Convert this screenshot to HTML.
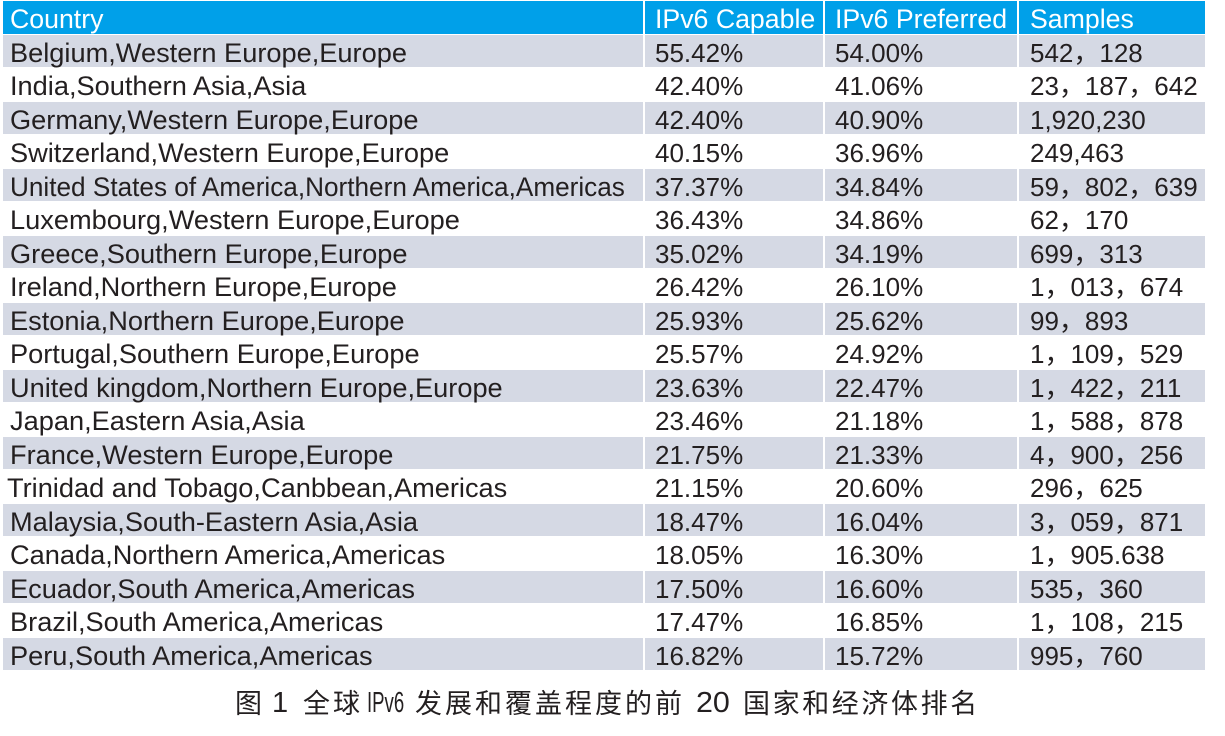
<!DOCTYPE html>
<html><head><meta charset="utf-8"><style>
html,body{margin:0;padding:0;background:#fff;}
body{width:1225px;height:736px;position:relative;overflow:hidden;font-family:"Liberation Sans","Noto Sans CJK SC",sans-serif;color:#231f20;}
.r{position:absolute;left:0;width:1225px;height:32.5px;}
.c{position:absolute;top:0;height:32.5px;box-sizing:border-box;padding-top:2px;line-height:32.5px;font-size:26px;white-space:pre;overflow:visible;}
.c1{left:3px;width:640px;padding-left:7px;font-size:27.2px;}
.c2{left:645px;width:178px;padding-left:10px;}
.c3{left:825px;width:192px;padding-left:10px;}
.c4{left:1019px;width:186px;padding-left:11px;}
.h .c{background:#00a0e9;color:#fff;font-size:26.7px;}
.g .c{background:#d5d9e4;}
.sq{display:inline-block;transform:scaleX(0.962);transform-origin:0 50%;}
.cap{position:absolute;top:691px;font-size:27px;line-height:27px;letter-spacing:3px;white-space:pre;color:#231f20;font-family:"Liberation Sans","Noto Sans CJK SC",sans-serif;}
.lat{letter-spacing:0;transform-origin:0 50%;font-size:29px;top:690px;}
</style></head><body>
<div class="r h" style="top:1px"><div class="c c1">Country</div><div class="c c2">IPv6 Capable</div><div class="c c3">IPv6 Preferred</div><div class="c c4">Samples</div></div>
<div class="r g" style="top:34.5px"><div class="c c1">Belgium,Western Europe,Europe</div><div class="c c2">55.42%</div><div class="c c3">54.00%</div><div class="c c4">542，128</div></div>
<div class="r" style="top:68px"><div class="c c1">India,Southern Asia,Asia</div><div class="c c2">42.40%</div><div class="c c3">41.06%</div><div class="c c4">23，187，642</div></div>
<div class="r g" style="top:101.5px"><div class="c c1">Germany,Western Europe,Europe</div><div class="c c2">42.40%</div><div class="c c3">40.90%</div><div class="c c4">1,920,230</div></div>
<div class="r" style="top:135px"><div class="c c1">Switzerland,Western Europe,Europe</div><div class="c c2">40.15%</div><div class="c c3">36.96%</div><div class="c c4">249,463</div></div>
<div class="r g" style="top:168.5px"><div class="c c1"><span class="sq">United States of America,Northern America,Americas</span></div><div class="c c2">37.37%</div><div class="c c3">34.84%</div><div class="c c4">59，802，639</div></div>
<div class="r" style="top:202px"><div class="c c1">Luxembourg,Western Europe,Europe</div><div class="c c2">36.43%</div><div class="c c3">34.86%</div><div class="c c4">62，170</div></div>
<div class="r g" style="top:235.5px"><div class="c c1">Greece,Southern Europe,Europe</div><div class="c c2">35.02%</div><div class="c c3">34.19%</div><div class="c c4">699，313</div></div>
<div class="r" style="top:269px"><div class="c c1">Ireland,Northern Europe,Europe</div><div class="c c2">26.42%</div><div class="c c3">26.10%</div><div class="c c4">1，013，674</div></div>
<div class="r g" style="top:302.5px"><div class="c c1">Estonia,Northern Europe,Europe</div><div class="c c2">25.93%</div><div class="c c3">25.62%</div><div class="c c4">99，893</div></div>
<div class="r" style="top:336px"><div class="c c1">Portugal,Southern Europe,Europe</div><div class="c c2">25.57%</div><div class="c c3">24.92%</div><div class="c c4">1，109，529</div></div>
<div class="r g" style="top:369.5px"><div class="c c1">United kingdom,Northern Europe,Europe</div><div class="c c2">23.63%</div><div class="c c3">22.47%</div><div class="c c4">1，422，211</div></div>
<div class="r" style="top:403px"><div class="c c1">Japan,Eastern Asia,Asia</div><div class="c c2">23.46%</div><div class="c c3">21.18%</div><div class="c c4">1，588，878</div></div>
<div class="r g" style="top:436.5px"><div class="c c1">France,Western Europe,Europe</div><div class="c c2">21.75%</div><div class="c c3">21.33%</div><div class="c c4">4，900，256</div></div>
<div class="r" style="top:470px"><div class="c c1" style="padding-left:4px">Trinidad and Tobago,Canbbean,Americas</div><div class="c c2">21.15%</div><div class="c c3">20.60%</div><div class="c c4">296，625</div></div>
<div class="r g" style="top:503.5px"><div class="c c1">Malaysia,South-Eastern Asia,Asia</div><div class="c c2">18.47%</div><div class="c c3">16.04%</div><div class="c c4">3，059，871</div></div>
<div class="r" style="top:537px"><div class="c c1">Canada,Northern America,Americas</div><div class="c c2">18.05%</div><div class="c c3">16.30%</div><div class="c c4">1，905.638</div></div>
<div class="r g" style="top:570.5px"><div class="c c1">Ecuador,South America,Americas</div><div class="c c2">17.50%</div><div class="c c3">16.60%</div><div class="c c4">535，360</div></div>
<div class="r" style="top:604px"><div class="c c1">Brazil,South America,Americas</div><div class="c c2">17.47%</div><div class="c c3">16.85%</div><div class="c c4">1，108，215</div></div>
<div class="r g" style="top:637.5px"><div class="c c1">Peru,South America,Americas</div><div class="c c2">16.82%</div><div class="c c3">15.72%</div><div class="c c4">995，760</div></div>
<div class="cap" style="left:235px">图</div>
<div class="cap lat" style="left:272px">1</div>
<div class="cap" style="left:303px">全球</div>
<div class="cap lat" style="left:367px;transform:scaleX(0.64)">IPv6</div>
<div class="cap" style="left:415px">发展和覆盖程度的前</div>
<div class="cap lat" style="left:696px;transform:scaleX(1.05)">20</div>
<div class="cap" style="left:743px;letter-spacing:2.6px">国家和经济体排名</div>
</body></html>
